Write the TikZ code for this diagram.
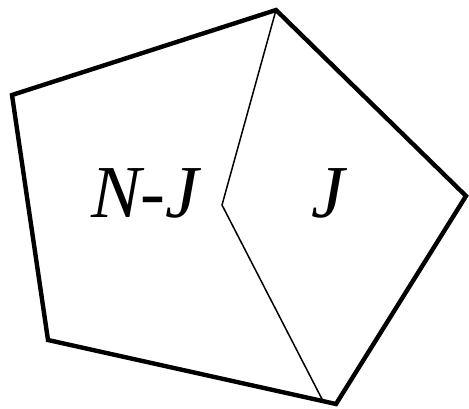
\documentclass[tikz,border=0pt]{standalone}
\usepackage{fontspec}
\setmainfont{Liberation Serif}
\usetikzlibrary{calc}

\begin{document}
\begin{tikzpicture}[
    x=1bp, y=-1bp,
    rim/.style={line width=4.4bp, line join=miter},
    cut/.style={line width=1.5bp},
    lab/.style={font=\fontsize{75}{75}\selectfont\itshape, inner sep=0pt},
]
    \useasboundingbox (0,0) rectangle (469,408);

    % Corners of the pentagon
    \coordinate (top) at (276,10);
    \coordinate (right) at (466,196);
    \coordinate (bottom) at (336,404);
    \coordinate (lowleft) at (48,340);
    \coordinate (upleft) at (12,95);

    % Inner cut
    \coordinate (mid) at (222,205);
    \coordinate (foot) at ($(lowleft)!0.955!(bottom)$);

    \draw[cut] (top) -- (mid) -- (foot);
    \draw[rim] (top) -- (right) -- (bottom) -- (lowleft) -- (upleft) -- cycle;

    % Labels
    \node[lab] (rest) at (145,193) {N-J};
    \node[lab] (part) at (328,193) {J};
\end{tikzpicture}
\end{document}
